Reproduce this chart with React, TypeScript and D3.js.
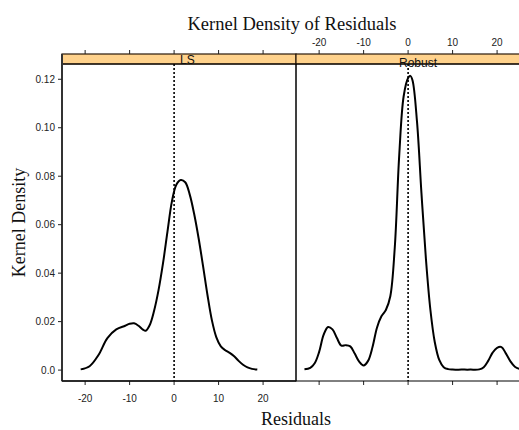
import React from "react";
import * as d3 from "d3";

const title = "Kernel Density of Residuals";
const xTitle = "Residuals";
const yTitle = "Kernel Density";
const panels = ["LS", "Robust"];
const xTicks = [-20, -10, 0, 10, 20];
const yTicks = [0.0, 0.02, 0.04, 0.06, 0.08, 0.1, 0.12];
const yTickLabels = ["0.0", "0.02", "0.04", "0.06", "0.08", "0.10", "0.12"];

const lsX = [-21, -19, -17, -15, -13, -11, -10, -9, -8, -7, -6.4, -5.5, -4.5, -3.5, -2.5, -1.5, -0.5, 0.5, 1.5, 2.5, 3.5, 4.5, 5.5, 6.5, 7.5, 8.5, 9.5, 10.5, 11.5, 12.5, 13.5, 14.5, 15.5, 16.5, 17.5, 18.7];
const lsY = [0.0003, 0.0016, 0.0062, 0.0132, 0.0168, 0.0183, 0.0191, 0.0193, 0.0183, 0.0167, 0.0162, 0.0185, 0.0245, 0.033, 0.044, 0.057, 0.0695, 0.0765, 0.0784, 0.0775, 0.0725, 0.0645, 0.0545, 0.043, 0.031, 0.0205, 0.0135, 0.0098, 0.0082, 0.0071, 0.0057, 0.0038, 0.0022, 0.0011, 0.0005, 0.0002];

const robX = [-23.3, -22, -21, -20, -19, -18, -17, -16, -15, -14, -13, -12, -11, -10, -9, -8, -7, -6, -5, -4, -3, -2, -1, 0, 0.5, 1, 2, 3, 4, 5, 6, 7, 8, 9, 10, 12, 14, 16, 17, 18, 19, 20, 21, 22, 23, 24, 25, 26, 27];
const robY = [0.0003, 0.0009, 0.0028, 0.0075, 0.0145, 0.0178, 0.0168, 0.0132, 0.0101, 0.0103, 0.0098, 0.0068, 0.0035, 0.0019, 0.0038, 0.0095, 0.0175, 0.0222, 0.0248, 0.0305, 0.0505, 0.0885, 0.113, 0.1205, 0.1214, 0.1195, 0.1025, 0.073, 0.046, 0.025, 0.0115, 0.0042, 0.0012, 0.0004, 0.0002, 0.0002, 0.0002, 0.0003, 0.0012, 0.0038, 0.0072, 0.0092, 0.0095, 0.0068, 0.0036, 0.0014, 0.0005, 0.0002, 0.0001];

const seriesX = [lsX, robX];
const seriesY = [lsY, robY];

const W = 519;
const H = 430;
const plotTop = 64;
const plotBottom = 381;
const stripTop = 54;
const panelLeft = [62, 296];
const panelWidth = 234;
const xDomain: [number, number] = [-25.2, 27.4];
const yDomain: [number, number] = [-0.0045, 0.1263];

const sans = "'Liberation Sans', Arial, sans-serif";
const serif = "'Liberation Serif', 'Times New Roman', serif";

export default function App() {
  const y = d3.scaleLinear().domain(yDomain).range([plotBottom, plotTop]);
  return (
    <svg width={W} height={H} style={{ position: "absolute", left: 0, top: 0 }} fontFamily={sans}>
      <rect x={0} y={0} width={W} height={H} fill="white" />
      <defs>
        {panels.map((p, i) => (
          <clipPath id={`clip${i}`} key={p}>
            <rect x={panelLeft[i]} y={plotTop} width={panelWidth} height={plotBottom - plotTop} />
          </clipPath>
        ))}
      </defs>
      <text x={292} y={30} textAnchor="middle" fontFamily={serif} fontSize={18.5} fill="#111">{title}</text>
      {panels.map((p, i) => {
        const x = d3.scaleLinear().domain(xDomain).range([panelLeft[i], panelLeft[i] + panelWidth]);
        const pts: [number, number][] = seriesX[i].map((v, k) => [v, seriesY[i][k]]);
        const line = d3.line<[number, number]>().x(d => x(d[0])).y(d => y(d[1])).curve(d3.curveCatmullRom.alpha(0.5));
        return (
          <g key={p}>
            <rect x={panelLeft[i]} y={stripTop} width={panelWidth} height={plotTop - stripTop} fill="#ffd28c" stroke="#2a1a0a" strokeWidth={1.2} />
            {xTicks.map(t => (
              <line key={`tt${t}`} x1={x(t)} x2={x(t)} y1={stripTop - 4} y2={stripTop} stroke="#222" strokeWidth={1} />
            ))}
            {i === 1 && xTicks.map(t => (
              <text key={`tl${t}`} x={x(t)} y={46} textAnchor="middle" fontSize={10} fill="#222">{t}</text>
            ))}
            {xTicks.map(t => (
              <line key={`bt${t}`} x1={x(t)} x2={x(t)} y1={plotBottom} y2={plotBottom + 4} stroke="#222" strokeWidth={1} />
            ))}
            {i === 0 && xTicks.map(t => (
              <text key={`bl${t}`} x={x(t)} y={402} textAnchor="middle" fontSize={10} fill="#222">{t}</text>
            ))}
            <line x1={x(0)} x2={x(0)} y1={plotTop} y2={plotBottom} stroke="#000" strokeWidth={1.6} strokeDasharray="2,2" />
            <path d={line(pts) || ""} fill="none" stroke="#000" strokeWidth={2} clipPath={`url(#clip${i})`} />
            <rect x={panelLeft[i]} y={plotTop} width={panelWidth} height={plotBottom - plotTop} fill="none" stroke="#000" strokeWidth={1} />
            <text x={i === 0 ? 180 : 399} y={i === 0 ? 64 : 67} fontSize={12} fill="#111">{p}</text>
          </g>
        );
      })}
      <line x1={62} x2={62} y1={stripTop} y2={plotBottom} stroke="#333" strokeWidth={2} />
      <line x1={62} x2={296} y1={plotBottom} y2={plotBottom} stroke="#111" strokeWidth={1.5} />
      {yTicks.map((t, k) => (
        <g key={`y${t}`}>
          <line x1={58} x2={62} y1={y(t)} y2={y(t)} stroke="#222" strokeWidth={1} />
          <text x={55} y={y(t) + 3.5} textAnchor="end" fontSize={10} fill="#222">{yTickLabels[k]}</text>
        </g>
      ))}
      <text x={296} y={425} textAnchor="middle" fontFamily={serif} fontSize={18} fill="#111">{xTitle}</text>
      <text transform={`translate(25,${(plotTop + plotBottom) / 2}) rotate(-90)`} textAnchor="middle" fontFamily={serif} fontSize={18} fill="#111">{yTitle}</text>
    </svg>
  );
}
